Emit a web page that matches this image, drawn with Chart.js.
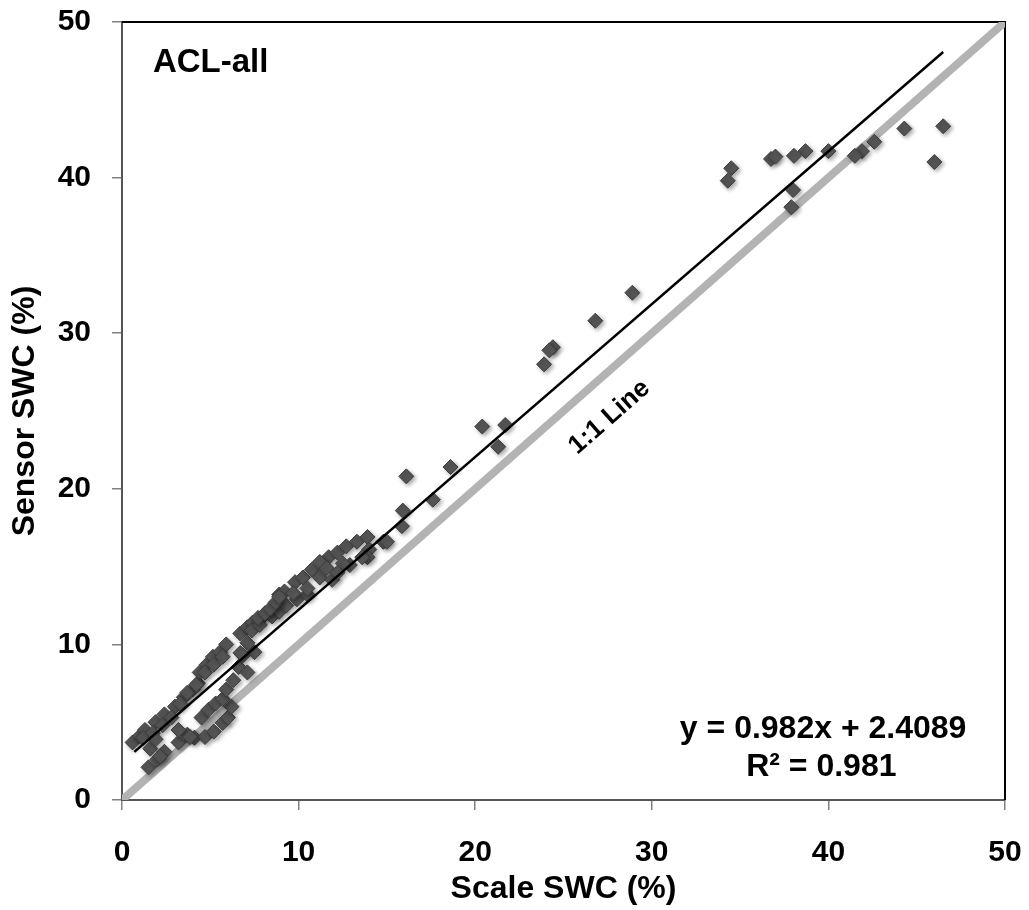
<!DOCTYPE html>
<html>
<head>
<meta charset="utf-8">
<script src="https://cdn.jsdelivr.net/npm/chart.js@4/dist/chart.umd.min.js"></script>
<style>
  html, body { margin: 0; padding: 0; background: #fff; }
  #wrap { width: 1029px; height: 910px; position: relative; }
</style>
</head>
<body>
<div id="wrap"><canvas id="swcChart"></canvas></div>
<script>
// ---------- DATA ----------
const scaleSWC = [
  46.5, 44.3, 46.0, 42.6, 41.9, 41.5, 40.0, 38.7, 38.05, 36.75, 37.0, 34.5, 34.3, 38.0, 37.9,
  28.9, 26.8, 24.4, 24.2, 23.9, 21.7, 20.4, 21.3, 18.6, 16.1, 17.6, 15.9, 15.85, 14.8, 15.0,
  0.6, 1.0, 1.3, 1.9, 2.4, 3.0, 3.5, 4.0, 4.3, 4.4, 4.8, 5.15, 5.55, 5.9, 6.7, 7.1, 7.4, 7.9,
  8.4, 8.8, 8.9, 9.2, 9.8, 10.25, 10.75, 11.7, 12.2, 12.7, 13.3, 13.9, 11.2, 12.9, 14.0,
  1.2, 1.75, 2.3, 2.8, 3.3, 3.7, 4.2, 4.7, 5.2, 5.7,
  1.6, 1.5, 2.0, 2.4, 3.2, 3.7, 4.1, 4.7, 5.2, 5.7, 6.0, 6.2, 4.5, 4.9, 5.3, 5.7, 1.9, 3.2,
  5.9, 6.3, 6.6, 7.1, 6.85, 7.5, 7.1, 7.35, 7.8, 8.5, 8.9, 9.3, 9.9, 10.5, 6.7,
  7.7, 8.1, 8.4, 8.7, 8.9, 9.7, 10.5, 11.2, 11.6, 11.9, 12.5, 13.9, 12.2, 13.6, 3.85, 2.15
];
const sensorSWC = [
  43.3, 43.15, 41.0, 42.3, 41.7, 41.4, 41.7, 41.7, 41.4, 41.2, 41.35, 40.6, 39.8, 39.2, 38.1,
  32.6, 30.8, 29.1, 28.9, 28.0, 24.1, 24.0, 22.7, 21.4, 20.8, 19.3, 18.6, 17.6, 16.6, 16.6,
  3.7, 4.1, 4.5, 5.0, 5.5, 6.0, 6.6, 7.1, 7.5, 8.2, 8.7, 9.2, 9.5, 10.0, 10.7, 11.1, 11.4, 11.7,
  12.1, 12.7, 13.2, 13.4, 14.0, 14.3, 14.8, 15.6, 15.9, 16.3, 16.6, 16.9, 15.3, 15.1, 16.1,
  4.0, 4.3, 4.8, 5.3, 6.2, 6.9, 7.4, 8.2, 8.7, 9.2,
  3.3, 2.1, 2.6, 3.1, 3.7, 4.2, 4.0, 4.05, 4.4, 4.95, 5.3, 6.0, 5.3, 5.8, 6.2, 6.5, 3.9, 4.5,
  7.1, 7.7, 8.55, 8.2, 9.3, 9.5, 10.1, 10.9, 11.25, 11.8, 12.1, 12.5, 12.9, 13.2, 9.45,
  11.7, 12.0, 12.3, 12.7, 13.05, 13.3, 13.6, 14.3, 14.9, 14.15, 15.2, 15.6, 14.6, 15.6, 4.05, 2.8
];
const xTicks = [0, 10, 20, 30, 40, 50];
const yTicks = [0, 10, 20, 30, 40, 50];
const fitSlope = 0.982, fitIntercept = 2.4089, fitR2 = 0.981;
const fitRange = [0.7, 46.5];
const oneToOne = [0, 50];

const FONT = "'Liberation Sans', Arial, sans-serif";

document.addEventListener('DOMContentLoaded', function () {
  const points = scaleSWC.map((x, i) => ({ x: x, y: sensorSWC[i] }));
  const fitLine = fitRange.map(x => ({ x: x, y: fitSlope * x + fitIntercept }));
  const idLine = oneToOne.map(v => ({ x: v, y: v }));

  // soft drop shadow under the diamonds
  const shadowPlugin = {
    id: 'shadow',
    beforeDatasetDraw(chart, args) {
      if (args.index !== 1) return;
      const c = chart.ctx;
      c.save();
      c.shadowColor = 'rgba(0,0,0,0.35)';
      c.shadowBlur = 4;
      c.shadowOffsetX = 2;
      c.shadowOffsetY = 2;
    },
    afterDatasetDraw(chart, args) {
      if (args.index !== 1) return;
      chart.ctx.restore();
    }
  };

  // plot frame + text labels
  const decorPlugin = {
    id: 'decor',
    beforeDatasetsDraw(chart) {
      const c = chart.ctx, a = chart.chartArea;
      c.save();
      c.strokeStyle = '#000';
      c.lineWidth = 2;
      c.beginPath();
      c.moveTo(a.left, a.top); c.lineTo(a.right, a.top); c.lineTo(a.right, a.bottom);
      c.stroke();
      c.restore();
    },
    afterDraw(chart) {
      const c = chart.ctx, xs = chart.scales.x, ys = chart.scales.y;
      const px = v => xs.getPixelForValue(v), py = v => ys.getPixelForValue(v);
      c.save();
      c.fillStyle = '#000';
      c.textBaseline = 'middle';

      c.font = 'bold 33px ' + FONT;
      c.textAlign = 'left';
      c.fillText('ACL-all', px(1.75), py(47.4));

      c.textAlign = 'center';
      c.font = 'bold 32px ' + FONT;
      c.fillText('y = ' + fitSlope + 'x + ' + fitIntercept, px(39.7), py(4.57));
      c.fillText('R\u00b2 = ' + fitR2, px(39.6), py(2.12));

      // 1:1 label, rotated along the identity line
      const ang = Math.atan2(py(50) - py(0), px(50) - px(0));
      c.translate(px(27.6), py(24.6));
      c.rotate(ang);
      c.font = 'bold 26px ' + FONT;
      c.fillText('1:1 Line', 0, 0);
      c.restore();
    }
  };

  const tickFont = { family: FONT, size: 30, weight: 'bold' };
  const titleFont = { family: FONT, size: 32, weight: 'bold' };

  new Chart(document.getElementById('swcChart'), {
    type: 'scatter',
    data: {
      datasets: [
        {
          label: 'Fit',
          type: 'line',
          data: fitLine,
          borderColor: '#000',
          borderWidth: 2.5,
          pointRadius: 0,
          fill: false,
          tension: 0
        },
        {
          label: 'ACL-all',
          data: points,
          pointStyle: 'rectRot',
          pointRadius: 7.5,
          backgroundColor: '#555555',
          borderColor: '#3c3c3c',
          borderWidth: 1
        },
        {
          label: '1:1 Line',
          type: 'line',
          data: idLine,
          borderColor: '#b3b3b3',
          borderWidth: 8,
          pointRadius: 0,
          fill: false,
          tension: 0
        }
      ]
    },
    options: {
      responsive: true,
      maintainAspectRatio: false,
      animation: false,
      layout: { padding: { top: 22, right: 24, left: 0, bottom: 0 } },
      plugins: { legend: { display: false }, tooltip: { enabled: false } },
      scales: {
        x: {
          type: 'linear',
          min: 0, max: 50,
          afterBuildTicks: s => { s.ticks = xTicks.map(v => ({ value: v })); },
          afterFit: s => { s.height = 110; s.paddingLeft = 0; s.paddingRight = 0; },
          grid: { drawOnChartArea: false, drawTicks: true, tickLength: 10, color: '#808080', lineWidth: 1.5 },
          border: { display: true, color: '#555', width: 2 },
          ticks: { color: '#000', font: tickFont, padding: 25, maxRotation: 0 },
          title: { display: true, text: 'Scale SWC (%)', color: '#000', font: titleFont, padding: { top: 0, bottom: 2 } }
        },
        y: {
          type: 'linear',
          min: 0, max: 50,
          afterBuildTicks: s => { s.ticks = yTicks.map(v => ({ value: v })); },
          afterFit: s => { s.width = 122; s.paddingTop = 0; s.paddingBottom = 0; },
          grid: { drawOnChartArea: false, drawTicks: true, tickLength: 10, color: '#808080', lineWidth: 1.5 },
          border: { display: true, color: '#555', width: 2 },
          ticks: { color: '#000', font: tickFont, padding: 21 },
          title: { display: true, text: 'Sensor SWC (%)', color: '#000', font: titleFont, padding: { top: 6, bottom: 0 } }
        }
      }
    },
    plugins: [shadowPlugin, decorPlugin]
  });
});
</script>
</body>
</html>
